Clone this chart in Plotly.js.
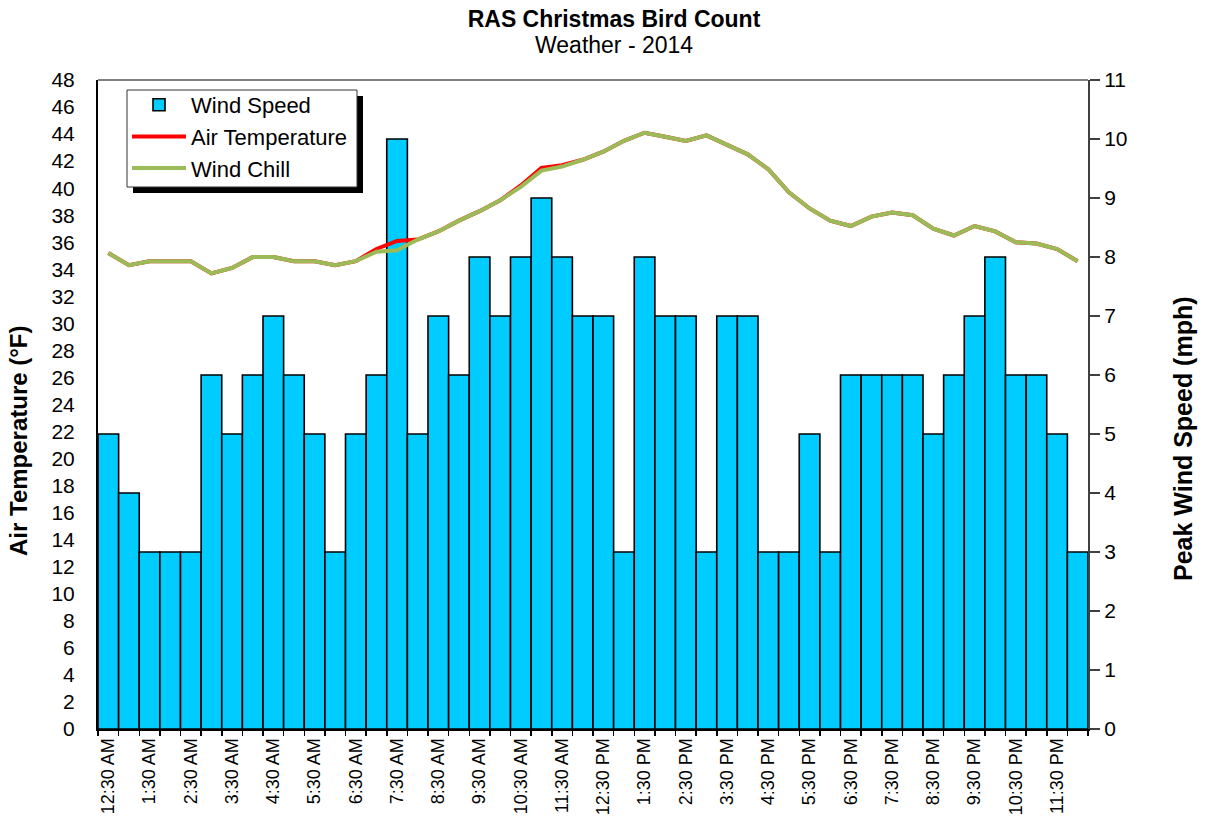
<!DOCTYPE html>
<html>
<head>
<meta charset="utf-8">
<script src="https://cdn.plot.ly/plotly-3.0.1.min.js"></script>
<style>html,body{margin:0;padding:0;background:#fff;}#chart{width:1205px;height:821px;}</style>
</head>
<body>
<div id="chart"></div>
<script>
// Half-hour intervals
const times = [
  "12:30 AM","1:00 AM","1:30 AM","2:00 AM","2:30 AM","3:00 AM","3:30 AM","4:00 AM",
  "4:30 AM","5:00 AM","5:30 AM","6:00 AM","6:30 AM","7:00 AM","7:30 AM","8:00 AM",
  "8:30 AM","9:00 AM","9:30 AM","10:00 AM","10:30 AM","11:00 AM","11:30 AM","12:00 PM",
  "12:30 PM","1:00 PM","1:30 PM","2:00 PM","2:30 PM","3:00 PM","3:30 PM","4:00 PM",
  "4:30 PM","5:00 PM","5:30 PM","6:00 PM","6:30 PM","7:00 PM","7:30 PM","8:00 PM",
  "8:30 PM","9:00 PM","9:30 PM","10:00 PM","10:30 PM","11:00 PM","11:30 PM","12:00 AM"
];
// Tick labels shown (every hour on the half hour)
const shownLabels = [
  "12:30 AM","1:30 AM","2:30 AM","3:30 AM","4:30 AM","5:30 AM","6:30 AM","7:30 AM",
  "8:30 AM","9:30 AM","10:30 AM","11:30 AM","12:30 PM","1:30 PM","2:30 PM","3:30 PM",
  "4:30 PM","5:30 PM","6:30 PM","7:30 PM","8:30 PM","9:30 PM","10:30 PM","11:30 PM"
];
// Peak wind speed (mph)
const windSpeed = [5,4,3,3,3,6,5,6,7,6,5,3,5,6,10,5,7,6,8,7,8,9,8,7,7,3,8,7,7,3,7,7,3,3,5,3,6,6,6,6,5,6,7,8,6,6,5,3];
// Air temperature (F)
const airTemp = [35.2,34.3,34.6,34.6,34.6,33.7,34.1,34.9,34.9,34.6,34.6,34.3,34.6,35.5,36.1,36.2,
  36.8,37.6,38.3,39.1,40.2,41.5,41.7,42.1,42.7,43.5,44.1,43.8,43.5,43.9,43.2,42.5,
  41.4,39.7,38.5,37.6,37.2,37.9,38.2,38.0,37.0,36.5,37.2,36.8,36.0,35.9,35.5,34.6];
// Wind chill (F)
const windChill = [35.2,34.3,34.6,34.6,34.6,33.7,34.1,34.9,34.9,34.6,34.6,34.3,34.6,35.3,35.4,36.2,
  36.8,37.6,38.3,39.1,40.1,41.3,41.6,42.1,42.7,43.5,44.1,43.8,43.5,43.9,43.2,42.5,
  41.4,39.7,38.5,37.6,37.2,37.9,38.2,38.0,37.0,36.5,37.2,36.8,36.0,35.9,35.5,34.6];

const titleText = "RAS Christmas Bird Count";
const subtitleText = "Weather - 2014";
const leftTitle = "Air Temperature (°F)";
const rightTitle = "Peak Wind Speed (mph)";

const tickText = times.map(t => shownLabels.includes(t) ? t : "");
const FONT = "Arial, 'Liberation Sans', sans-serif";

// pixel -> paper helpers (plot area 98..1088 x 80..729)
const px = v => (v - 98) / 990;
const py = v => 1 - (v - 80) / 649;

const traces = [
  {type:"bar", name:"Wind Speed", x:times, y:windSpeed, xaxis:"x", yaxis:"y",
   marker:{color:"#00CCFF", line:{color:"#000000", width:1.6}}},
  {type:"scatter", mode:"lines", name:"Air Temperature", x:times, y:airTemp, xaxis:"x", yaxis:"y2",
   line:{color:"#FF0000", width:4}},
  {type:"scatter", mode:"lines", name:"Wind Chill", x:times, y:windChill, xaxis:"x", yaxis:"y2",
   line:{color:"#9BBB59", width:4}}
];

const tickAxis = (range, dtick, side, ticks, len, color) => ({
  range:range, dtick:dtick, overlaying:"y", side:side, ticks:ticks, ticklen:len, tickwidth:1.5,
  tickcolor:color, showline:false, showgrid:false, zeroline:false, showticklabels:false
});

const layout = {
  width:1205, height:821,
  margin:{l:98, r:117, t:80, b:92},
  paper_bgcolor:"#ffffff", plot_bgcolor:"#ffffff",
  font:{family:FONT, color:"#000"},
  showlegend:true,
  bargap:0,
  title:{text:"<b>" + titleText + "</b>", x:614/1205, xanchor:"center",
         y:1 - 19/821, yanchor:"middle", yref:"container", font:{family:FONT, size:23, color:"#000"}},
  xaxis:{type:"category", categoryorder:"array", categoryarray:times,
    tickmode:"array", tickvals:times, ticktext:tickText, tickson:"boundaries",
    ticks:"outside", ticklen:5, tickwidth:1.5, tickcolor:"#000", tickangle:-90,
    tickfont:{size:18, family:FONT, color:"#000"},
    showline:true, linecolor:"#000", linewidth:2, showgrid:false, zeroline:false,
    range:[-0.5,47.5]},
  yaxis:{range:[0,11], dtick:1, side:"right", ticks:"outside", ticklen:10, tickwidth:1.5,
    tickcolor:"#404040", showline:true, linecolor:"#404040", linewidth:2, showgrid:false,
    zeroline:false, tickfont:{size:21, family:FONT, color:"#000"}},
  yaxis2:{range:[0,48], dtick:2, overlaying:"y", side:"left", ticks:"outside", ticklen:17,
    tickwidth:1, tickcolor:"rgba(0,0,0,0)", showline:true, linecolor:"#000", linewidth:2,
    showgrid:false, zeroline:false, tickfont:{size:21, family:FONT, color:"#000"}},
  yaxis3:tickAxis([0,48], 2, "left", "inside", 8, "#000"),
  yaxis5:tickAxis([0,48], 2, "left", "outside", 6, "#000"),
  yaxis4:tickAxis([0,11], 1, "right", "inside", 7, "#404040"),
  legend:{x:px(127), y:py(84), xanchor:"left", yanchor:"top", bgcolor:"rgba(0,0,0,0)",
    borderwidth:0, font:{size:22, family:FONT, color:"#000"},
    traceorder:"normal", itemwidth:54},
  shapes:[
    {type:"line", xref:"paper", yref:"paper", x0:0, x1:1, y0:1, y1:1, line:{color:"#808080", width:2}},
    {type:"rect", xref:"paper", yref:"paper", x0:px(133), x1:px(363), y0:py(193), y1:py(96),
     fillcolor:"#000000", line:{width:0}, layer:"above"},
    {type:"rect", xref:"paper", yref:"paper", x0:px(127), x1:px(357), y0:py(187), y1:py(90),
     fillcolor:"#ffffff", line:{color:"#333333", width:1}, layer:"above"}
  ],
  annotations:[
    {text:subtitleText, xref:"paper", yref:"paper", x:px(614), y:py(45),
     xanchor:"center", yanchor:"middle", showarrow:false, font:{size:23, family:FONT, color:"#000"}},
    {text:"<b>" + leftTitle + "</b>", xref:"paper", yref:"paper", x:px(18), y:py(441),
     xanchor:"center", yanchor:"middle", textangle:-90, showarrow:false, font:{size:24, family:FONT, color:"#000"}},
    {text:"<b>" + rightTitle + "</b>", xref:"paper", yref:"paper", x:px(1183), y:py(439),
     xanchor:"center", yanchor:"middle", textangle:-90, showarrow:false, font:{size:25, family:FONT, color:"#000"}}
  ]
};

Plotly.newPlot("chart", traces, layout, {displayModeBar:false, staticPlot:true});
</script>
</body>
</html>
